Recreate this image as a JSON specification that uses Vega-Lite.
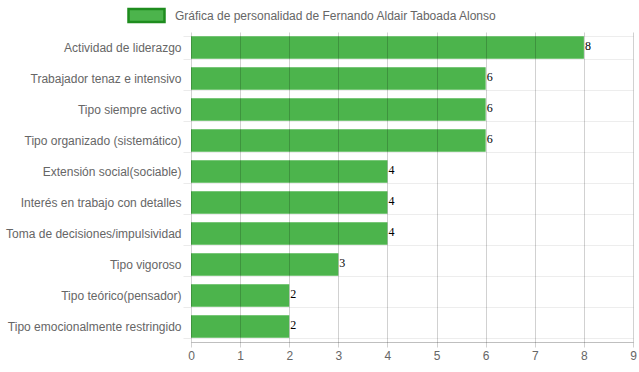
{
  "$schema": "https://vega.github.io/schema/vega-lite/v6.json",
  "width": 442,
  "height": 310,
  "autosize": {"type": "none"},
  "padding": {"left": 191, "top": 32, "right": 6, "bottom": 30},
  "background": "white",
  "data": {
    "values": [
      {"rasgo": "Actividad de liderazgo", "valor": 8, "serie": "Gráfica de personalidad de Fernando Aldair Taboada Alonso"},
      {"rasgo": "Trabajador tenaz e intensivo", "valor": 6, "serie": "Gráfica de personalidad de Fernando Aldair Taboada Alonso"},
      {"rasgo": "Tipo siempre activo", "valor": 6, "serie": "Gráfica de personalidad de Fernando Aldair Taboada Alonso"},
      {"rasgo": "Tipo organizado (sistemático)", "valor": 6, "serie": "Gráfica de personalidad de Fernando Aldair Taboada Alonso"},
      {"rasgo": "Extensión social(sociable)", "valor": 4, "serie": "Gráfica de personalidad de Fernando Aldair Taboada Alonso"},
      {"rasgo": "Interés en trabajo con detalles", "valor": 4, "serie": "Gráfica de personalidad de Fernando Aldair Taboada Alonso"},
      {"rasgo": "Toma de decisiones/impulsividad", "valor": 4, "serie": "Gráfica de personalidad de Fernando Aldair Taboada Alonso"},
      {"rasgo": "Tipo vigoroso", "valor": 3, "serie": "Gráfica de personalidad de Fernando Aldair Taboada Alonso"},
      {"rasgo": "Tipo teórico(pensador)", "valor": 2, "serie": "Gráfica de personalidad de Fernando Aldair Taboada Alonso"},
      {"rasgo": "Tipo emocionalmente restringido", "valor": 2, "serie": "Gráfica de personalidad de Fernando Aldair Taboada Alonso"}
    ]
  },
  "encoding": {
    "y": {
      "field": "rasgo",
      "type": "nominal",
      "sort": null,
      "title": null,
      "scale": {"paddingInner": 0.28, "paddingOuter": 0.14},
      "axis": {
        "labelFont": "Liberation Sans",
        "labelFontSize": 12,
        "labelColor": "#666666",
        "labelPadding": 2,
        "labelLimit": 300,
        "tickBand": "extent",
        "tickSize": 8,
        "tickColor": "#000000",
        "tickOpacity": 0.08,
        "grid": true,
        "gridColor": "#000000",
        "gridOpacity": 0.07,
        "domain": false,
        "zindex": 0
      }
    },
    "x": {
      "field": "valor",
      "type": "quantitative",
      "title": null,
      "scale": {"domain": [0, 9], "nice": false},
      "axis": {
        "values": [0, 1, 2, 3, 4, 5, 6, 7, 8, 9],
        "labelFont": "Liberation Sans",
        "labelFontSize": 12,
        "labelColor": "#666666",
        "labelFlush": false,
        "labelPadding": 3,
        "tickSize": 5,
        "tickColor": "#000000",
        "tickOpacity": 0.18,
        "grid": true,
        "gridColor": "#000000",
        "gridOpacity": 0.18,
        "domainColor": "#000000",
        "domainOpacity": 0.25,
        "zindex": 1
      }
    }
  },
  "layer": [
    {
      "mark": {"type": "bar", "color": "#4cb44c"},
      "encoding": {
        "color": {
          "field": "serie",
          "type": "nominal",
          "scale": {"range": ["#4cb44c"]},
          "legend": {
            "title": null,
            "orient": "none",
            "legendX": -64,
            "legendY": -36,
            "direction": "horizontal",
            "symbolType": "M-1,-0.36H1V0.36H-1Z",
            "symbolSize": 1296,
            "symbolStrokeColor": "#1e8c1e",
            "symbolStrokeWidth": 2.5,
            "symbolOpacity": 1,
            "labelFont": "Liberation Sans",
            "labelFontSize": 12,
            "labelColor": "#666666",
            "labelOffset": 9,
            "labelLimit": 500
          }
        }
      }
    },
    {
      "mark": {
        "type": "text",
        "align": "left",
        "baseline": "middle",
        "dx": 1,
        "dy": -2,
        "font": "Liberation Serif",
        "fontSize": 12,
        "color": "#000000"
      },
      "encoding": {"text": {"field": "valor", "type": "quantitative"}}
    }
  ],
  "config": {"view": {"stroke": null}}
}
